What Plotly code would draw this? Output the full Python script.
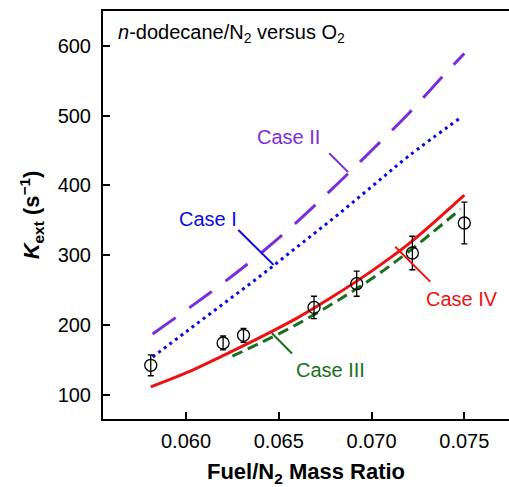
import plotly.graph_objects as go

# Experimental data
mass_ratio_exp = [0.0581, 0.0620, 0.0631, 0.0669, 0.0692, 0.0722, 0.0750]
kext_exp = [142, 174, 185, 225, 259, 303, 346]
kext_err = [15, 10, 10, 16, 18, 24, 30]

# Model cases
case1_x = [0.0582, 0.060, 0.062, 0.064, 0.066, 0.068, 0.070, 0.072, 0.0748]
case1_k = [154, 190, 230, 270, 312, 354, 398, 442, 497]
case2_x = [0.0582, 0.060, 0.062, 0.064, 0.066, 0.068, 0.070, 0.072, 0.074, 0.0750]
case2_k = [187, 221, 260, 302, 348, 398, 450, 503, 561, 589]
case3_x = [0.0625, 0.064, 0.066, 0.068, 0.070, 0.072, 0.0748]
case3_k = [155, 174, 201, 232, 266, 305, 366]
case4_x = [0.0581, 0.060, 0.062, 0.064, 0.066, 0.068, 0.070, 0.072, 0.0750]
case4_k = [111, 131, 156, 182, 210, 242, 277, 316, 386]

x_ticks = [0.060, 0.065, 0.070, 0.075]
x_tick_labels = ["0.060", "0.065", "0.070", "0.075"]
y_ticks = [100, 200, 300, 400, 500, 600]

C1 = "#0a0ae6"
C2 = "#7a2ed8"
C3 = "#1b6e1b"
C4 = "#ec1212"
FONT = "Liberation Sans, Arial, Helvetica, sans-serif"

fig = go.Figure()
fig.add_trace(go.Scatter(x=case2_x, y=case2_k, mode="lines", line_shape="spline",
                         line=dict(color=C2, width=3, dash="28px,17px"), showlegend=False))
fig.add_trace(go.Scatter(x=case1_x, y=case1_k, mode="lines", line_shape="spline",
                         line=dict(color=C1, width=3, dash="3px,4px"), showlegend=False))
fig.add_trace(go.Scatter(x=case3_x, y=case3_k, mode="lines", line_shape="spline",
                         line=dict(color=C3, width=3, dash="11px,6px"), showlegend=False))
fig.add_trace(go.Scatter(x=case4_x, y=case4_k, mode="lines", line_shape="spline",
                         line=dict(color=C4, width=3), showlegend=False))
fig.add_trace(go.Scatter(x=mass_ratio_exp, y=kext_exp, mode="markers",
                         marker=dict(symbol="circle-open", size=12, color="black",
                                     line=dict(width=1.3, color="black")),
                         error_y=dict(type="data", array=kext_err, visible=True,
                                      color="black", thickness=1.3, width=3),
                         showlegend=False))

# leader lines
leaders = [
    (0.06282, 336, 0.06472, 286, C1),
    (0.06772, 446, 0.06874, 419, C2),
    (0.06463, 188, 0.06571, 159, C3),
    (0.07128, 312, 0.07316, 262, C4),
]
shapes = [dict(type="line", xref="x", yref="y", x0=a, y0=b, x1=c, y1=d,
               line=dict(color=col, width=2)) for a, b, c, d, col in leaders]

labels = [
    ("Case I", 0.06121, 352, C1),
    ("Case II", 0.06551, 469, C2),
    ("Case III", 0.06778, 135, C3),
    ("Case IV", 0.07489, 237, C4),
]
annotations = [dict(text=t, x=x, y=y, xref="x", yref="y", showarrow=False,
                    font=dict(size=20, color=col, family=FONT),
                    xanchor="center", yanchor="middle") for t, x, y, col in labels]
annotations.append(dict(text="<i>n</i>-dodecane/N<sub>2</sub> versus O<sub>2</sub>",
                        xref="paper", yref="paper", x=0.031, y=0.944,
                        xanchor="left", yanchor="middle", showarrow=False,
                        font=dict(size=20, color="black", family=FONT)))

fig.update_layout(
    width=509, height=487,
    margin=dict(l=103, r=0, t=11, b=68),
    paper_bgcolor="white", plot_bgcolor="white",
    font=dict(family=FONT, size=20, color="black"),
    shapes=shapes, annotations=annotations,
    xaxis=dict(range=[0.055526, 0.077409], tickvals=x_ticks, ticktext=x_tick_labels,
               ticks="inside", ticklen=7, tickwidth=1.5, tickcolor="black",
               showline=True, linewidth=2, linecolor="black", mirror=True,
               showgrid=False, zeroline=False, ticklabelstandoff=3,
               tickfont=dict(size=20),
               title=dict(text="<b>Fuel/N<sub>2</sub> Mass Ratio</b>",
                          font=dict(size=22), standoff=16)),
    yaxis=dict(range=[65, 650], tickvals=y_ticks,
               ticks="inside", ticklen=7, tickwidth=1.5, tickcolor="black",
               showline=True, linewidth=2, linecolor="black",
               showgrid=False, zeroline=False, ticklabelstandoff=6,
               tickfont=dict(size=20),
               title=dict(text="<b><i>K</i><sub>ext</sub> (s<sup>−1</sup>)</b>",
                          font=dict(size=22), standoff=12)),
)

fig.write_html("out.html", config={"displayModeBar": False},
               post_script="document.body.style.margin='0px';document.body.style.overflow='hidden';")
